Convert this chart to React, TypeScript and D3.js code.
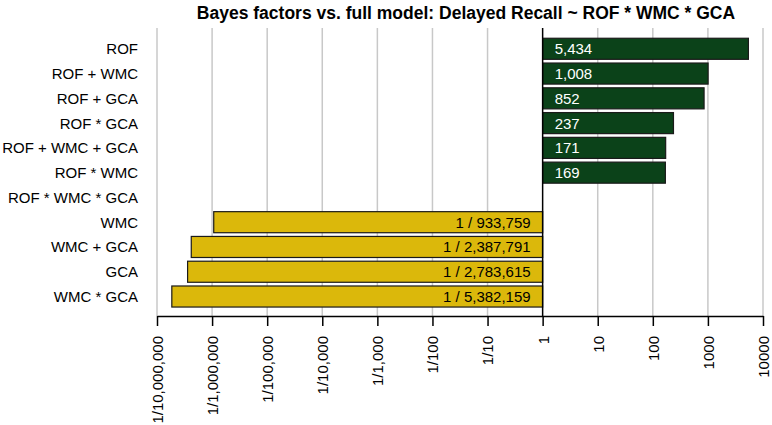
import React, { useRef, useEffect } from 'react';
import * as d3 from 'd3';

// Models compared against the full model
const models = [
  'ROF',
  'ROF + WMC',
  'ROF + GCA',
  'ROF * GCA',
  'ROF + WMC + GCA',
  'ROF * WMC',
  'ROF * WMC * GCA',
  'WMC',
  'WMC + GCA',
  'GCA',
  'WMC * GCA',
];

// Bayes factors vs. the full model
const bayesFactors = [
  5434, 1008, 852, 237, 171, 169, 1,
  1 / 933759, 1 / 2387791, 1 / 2783615, 1 / 5382159,
];

const tickValues = [1e-7, 1e-6, 1e-5, 1e-4, 1e-3, 1e-2, 1e-1, 1, 10, 100, 1000, 10000];

const App = () => {
  const svgRef = useRef<SVGSVGElement>(null);

  useEffect(() => {
    if (!svgRef.current) return;
    const svg = d3.select(svgRef.current);
    svg.selectAll('*').remove();

    const width = 772;
    const height = 425;
    const font = '"Liberation Sans", Arial, sans-serif';
    const gridTop = 28;
    const axisY = 316;

    svg.attr('width', width).attr('height', height).style('background', '#fff');

    const x = d3.scaleLog().domain([1e-7, 1e4]).range([157, 763]);
    const y = d3.scaleBand<string>()
      .domain(models)
      .range([36.4, 308.9])
      .paddingInner(0.15)
      .paddingOuter(0.075);

    const comma = d3.format(',');

    // title
    svg.append('text')
      .attr('x', 466)
      .attr('y', 19)
      .attr('text-anchor', 'middle')
      .attr('font-family', font)
      .attr('font-weight', 'bold')
      .attr('font-size', 17.5)
      .attr('fill', '#000')
      .text('Bayes factors vs. full model: Delayed Recall ~ ROF * WMC * GCA');

    // vertical grid lines
    svg.append('g')
      .selectAll('line')
      .data(tickValues.filter(d => d !== 1))
      .enter()
      .append('line')
      .attr('x1', d => x(d))
      .attr('x2', d => x(d))
      .attr('y1', gridTop)
      .attr('y2', axisY)
      .attr('stroke', '#c8c8c8')
      .attr('stroke-width', 1.5);

    // bars
    const rows = models.map((m, i) => ({ model: m, value: bayesFactors[i] }));
    const bars = rows.filter(d => d.value !== 1);

    svg.append('g')
      .selectAll('rect')
      .data(bars)
      .enter()
      .append('rect')
      .attr('x', d => x(Math.min(d.value, 1)))
      .attr('y', d => y(d.model)!)
      .attr('width', d => Math.abs(x(d.value) - x(1)))
      .attr('height', y.bandwidth())
      .attr('fill', d => (d.value > 1 ? '#0b4219' : '#dbb80b'))
      .attr('stroke', '#1a1a1a')
      .attr('stroke-width', 1.2);

    // bar value labels
    svg.append('g')
      .selectAll('text')
      .data(bars)
      .enter()
      .append('text')
      .attr('x', d => (d.value > 1 ? x(1) + 12 : x(1) - 12))
      .attr('y', d => y(d.model)! + y.bandwidth() / 2)
      .attr('dy', '0.36em')
      .attr('text-anchor', d => (d.value > 1 ? 'start' : 'end'))
      .attr('font-family', font)
      .attr('font-size', 15)
      .attr('fill', d => (d.value > 1 ? '#fff' : '#000'))
      .text(d => (d.value > 1 ? comma(d.value) : '1 / ' + comma(Math.round(1 / d.value))));

    // zero (BF = 1) line
    svg.append('line')
      .attr('x1', x(1))
      .attr('x2', x(1))
      .attr('y1', gridTop)
      .attr('y2', axisY)
      .attr('stroke', '#000')
      .attr('stroke-width', 1.5);

    // model labels
    svg.append('g')
      .selectAll('text')
      .data(models)
      .enter()
      .append('text')
      .attr('x', 138)
      .attr('y', d => y(d)! + y.bandwidth() / 2)
      .attr('dy', '0.36em')
      .attr('text-anchor', 'end')
      .attr('font-family', font)
      .attr('font-size', 15)
      .attr('fill', '#000')
      .text(d => d);

    // x axis
    const xAxis = d3.axisBottom(x)
      .tickValues(tickValues)
      .tickSize(10)
      .tickSizeOuter(0)
      .tickFormat(d => {
        const v = +d;
        return v < 1 ? '1/' + comma(Math.round(1 / v)) : String(v);
      });

    const axisG = svg.append('g')
      .attr('transform', `translate(0,${axisY})`)
      .call(xAxis);

    axisG.select('.domain').attr('stroke', '#000').attr('stroke-width', 1.5);
    axisG.selectAll('.tick line').attr('stroke', '#000').attr('stroke-width', 1.5);
    axisG.selectAll('.tick text')
      .attr('font-family', font)
      .attr('font-size', 15)
      .attr('fill', '#000')
      .attr('text-anchor', 'end')
      .attr('transform', 'rotate(-90)')
      .attr('x', -20)
      .attr('y', 0)
      .attr('dy', '0.36em');
  }, []);

  return (
    <div style={{ position: 'absolute', left: 0, top: 0 }}>
      <svg ref={svgRef}></svg>
    </div>
  );
};

export default App;
